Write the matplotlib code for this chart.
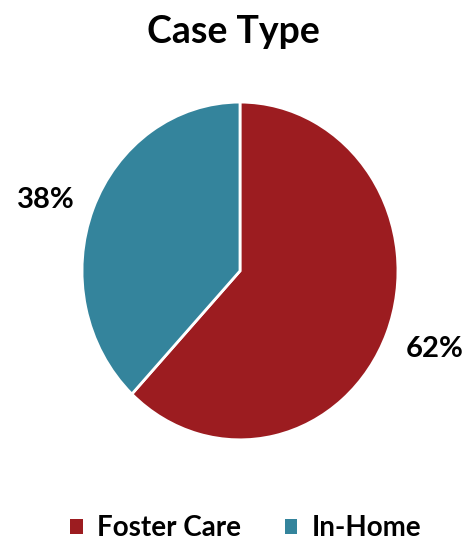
import matplotlib
matplotlib.use("Agg")
import matplotlib.pyplot as plt
from matplotlib.patches import Patch

plt.rcParams['font.family'] = ['Lato', 'DejaVu Sans']

labels = ["Foster Care", "In-Home"]
shares = [62, 38]
colors = ["#9C1C20", "#34849C"]

fig = plt.figure(figsize=(4.66, 5.43), dpi=100)
ax = fig.add_axes([0.176, 0.190, 0.678, 0.622])

wedges, texts, autotexts = ax.pie(
    shares, colors=colors, startangle=90, counterclock=False,
    autopct="%d%%", pctdistance=1.3,
    wedgeprops=dict(edgecolor="white", linewidth=2),
    textprops=dict(fontsize=21, fontweight="bold", color="black"),
)
# stretched a little taller than wide
ax.set_aspect("auto")
ax.set_xlim(-1, 1)
ax.set_ylim(-1, 1)

# nudge the percentage labels
autotexts[0].set_position((1.23, -0.46))
autotexts[1].set_position((-1.23, 0.42))

fig.text(0.5, 1 - 32 / 543, "Case Type", ha="center", va="center",
         fontsize=27, fontweight="bold")

handles = [Patch(facecolor=c, edgecolor="none") for c in colors]
fig.legend(handles, labels, loc="center", bbox_to_anchor=(0.527, 15 / 543),
           ncol=2, frameon=False, handlelength=0.45, handleheight=0.45,
           handletextpad=0.5, columnspacing=1.6,
           prop=dict(size=20, weight="bold"))

fig.savefig("out.png", dpi=100)
